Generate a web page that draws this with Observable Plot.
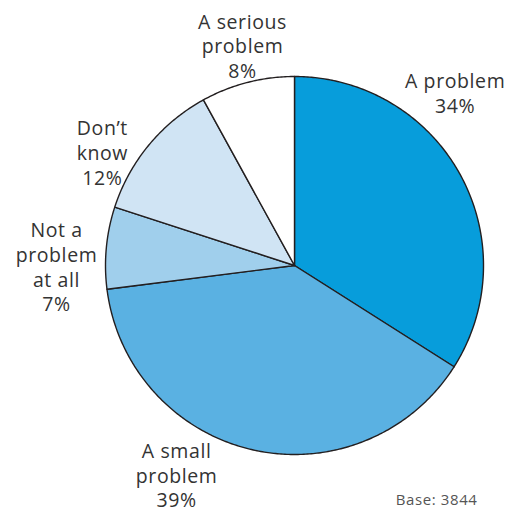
<!DOCTYPE html>
<html>
<head>
<meta charset="utf-8">
<script src="https://cdn.jsdelivr.net/npm/d3@7"></script>
<script src="https://cdn.jsdelivr.net/npm/@observablehq/plot@0.6"></script>
<style>
  html, body { margin: 0; padding: 0; background: #fff; }
  #chart { width: 512px; height: 512px; }
  #chart text { letter-spacing: 0.6px; }
</style>
</head>
<body>
<div id="chart"></div>
<script>
// Data (clockwise from 12 o'clock)
const categories = ["A problem", "A small problem", "Not a problem at all", "Don’t know", "A serious problem"];
const labelTexts = ["A problem", "A small\nproblem", "Not a\nproblem\nat all", "Don’t\nknow", "A serious\nproblem"];
const values = [34, 39, 7, 12, 8];
const baseN = 3844;

// Styling / layout (not data)
const colors = ["#079ddb", "#5ab1e2", "#a0cfec", "#d0e4f4", "#ffffff"];
const R = 189;
const labelRadius = [236, 240, 238, 223, 226];
const labelShiftDeg = [-18.3, 16.8, -5.6, -9.1, 1.1];

const pie = d3.pie().sort(null).value(d => d)(values);

// Build slice outlines (center -> arc -> center) in pixel units around the pie center
const slicePts = [];
pie.forEach((p, i) => {
  const n = Math.max(2, Math.ceil((p.endAngle - p.startAngle) / 0.01));
  slicePts.push({cat: categories[i], x: 0, y: 0});
  for (let k = 0; k <= n; k++) {
    const a = p.startAngle + (p.endAngle - p.startAngle) * k / n;
    slicePts.push({cat: categories[i], x: R * Math.sin(a), y: -R * Math.cos(a)});
  }
  slicePts.push({cat: categories[i], x: 0, y: 0});
});

const labels = pie.map((p, i) => {
  const a = (p.startAngle + p.endAngle) / 2 + labelShiftDeg[i] * Math.PI / 180;
  return {
    text: labelTexts[i] + "\n" + values[i] + "%",
    x: labelRadius[i] * Math.sin(a),
    y: -labelRadius[i] * Math.cos(a)
  };
});

const chart = Plot.plot({
  width: 512,
  height: 512,
  margin: 0,
  style: {background: "#fff", fontFamily: "'Open Sans', sans-serif"},
  x: {domain: [-294, 218], range: [0, 512], axis: null},
  y: {domain: [-265, 247], range: [0, 512], axis: null},
  color: {domain: categories, range: colors},
  marks: [
    Plot.line(slicePts, {x: "x", y: "y", z: "cat", fill: "cat", stroke: "#231f20", strokeWidth: 1.4, strokeLinejoin: "round"}),
    Plot.text(labels, {x: "x", y: "y", text: "text", fontSize: 19.5, lineHeight: 1.27, fill: "#333", textAnchor: "middle"}),
    Plot.text([`Base: ${baseN}`], {frameAnchor: "bottom-right", dx: -35, dy: -8, fontSize: 15, fill: "#555", textAnchor: "end"})
  ]
});
document.getElementById("chart").appendChild(chart);
</script>
</body>
</html>
